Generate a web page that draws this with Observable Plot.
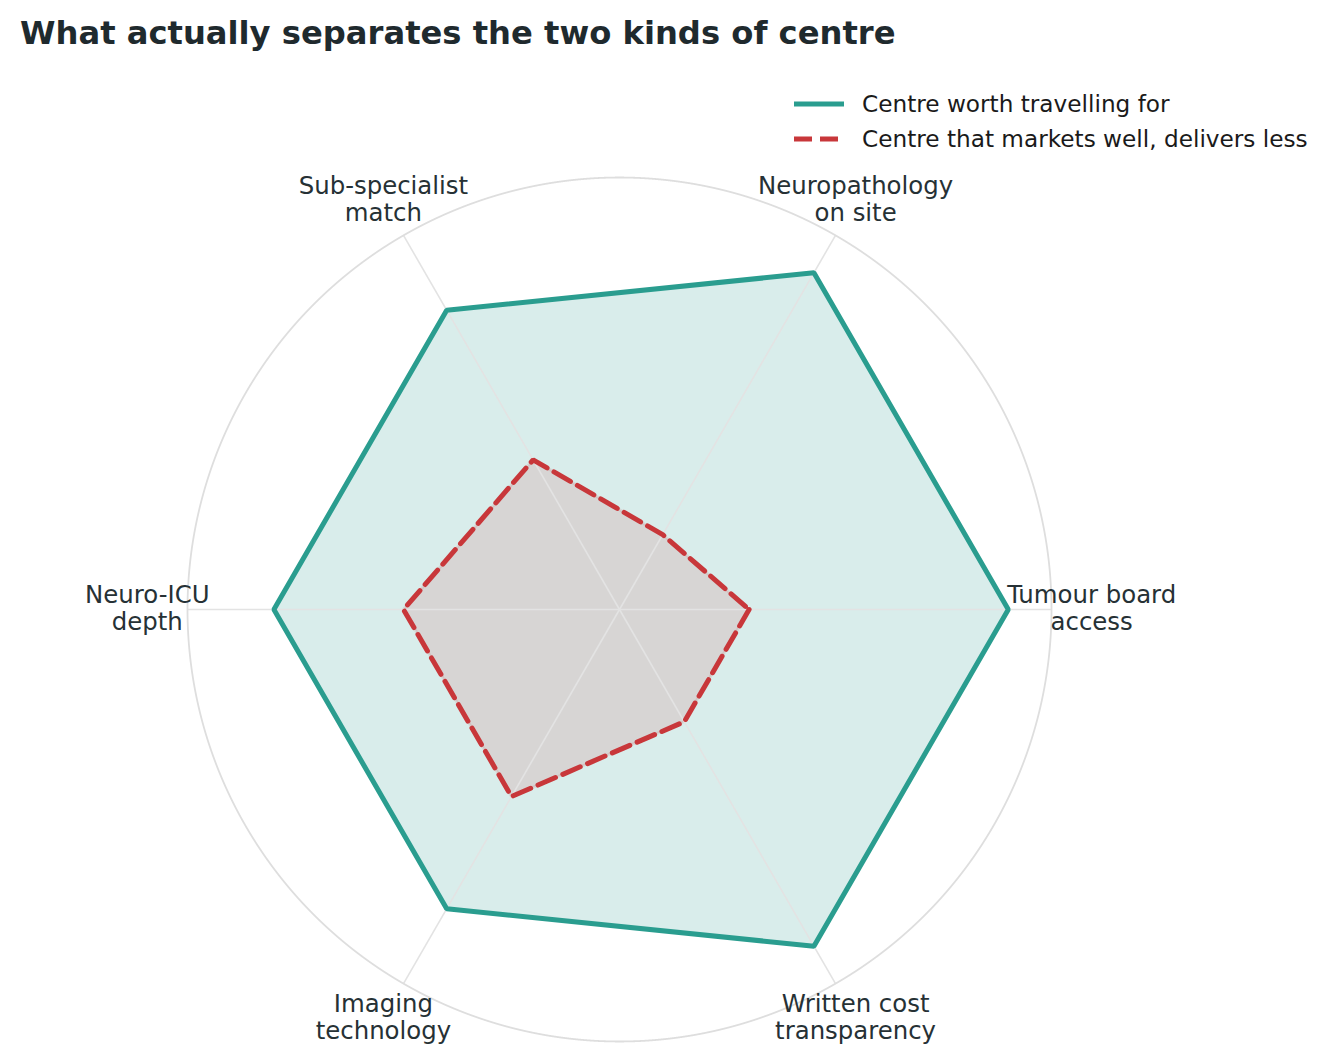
<!DOCTYPE html>
<html>
<head>
<meta charset="utf-8">
<script src="https://cdn.jsdelivr.net/npm/d3@7"></script>
<script src="https://cdn.jsdelivr.net/npm/@observablehq/plot@0.6"></script>
<style>
  html, body { margin: 0; padding: 0; background: #fff; }
  body { width: 1337px; height: 1064px; position: relative; overflow: hidden; font-family: "DejaVu Sans", sans-serif; }
  #title { position: absolute; left: 20px; top: 14px; font-size: 32.2px; font-weight: bold; color: #1f2a2e; white-space: nowrap; }
  #legend { position: absolute; left: 793px; top: 86px; font-size: 23.2px; color: #1a1a1a; }
  #legend .row { display: flex; align-items: center; height: 35px; }
  #legend svg { margin-right: 17px; }
  #chart { position: absolute; left: 0; top: 60px; }
</style>
</head>
<body>
<div id="title">What actually separates the two kinds of centre</div>
<div id="chart"></div>
<div id="legend"></div>
<script>
// ---- data ----
const axes = ["Tumour board\naccess", "Neuropathology\non site", "Sub-specialist\nmatch", "Neuro-ICU\ndepth", "Imaging\ntechnology", "Written cost\ntransparency"];
const worthScores = [9, 9, 8, 8, 8, 9];
const marketsScores = [3, 2, 4, 5, 5, 3];
const seriesNames = ["Centre worth travelling for", "Centre that markets well, delivers less"];
const maxScore = 10;

// ---- styling ----
const teal = "#2a9d8f";
const red = "#c8373a";
const deg = 0.2;               // degrees of arc per score unit (small so edges are straight)
const labelRadius = 10.93;     // label position in score units

const lon = i => 90 + i * 360 / axes.length;
const lat = v => 90 - v * deg;

function polygon(values) {
  const ring = values.map((v, i) => [lon(i), lat(v)]);
  ring.push(ring[0]);
  let g = {type: "Polygon", coordinates: [ring]};
  if (d3.geoArea(g) > 2 * Math.PI) g = {type: "Polygon", coordinates: [ring.slice().reverse()]};
  return g;
}

const spokes = axes.map((a, i) => ({lon: lon(i)}));
const labels = axes.map((a, i) => ({label: a, lon: lon(i), lat: lat(labelRadius)}));
const worthPoly = polygon(worthScores);
const marketsPoly = polygon(marketsScores);

const W = 1337, H = 1004;
const cx = 619, cy = 549, R = 432;

const chart = Plot.plot({
  width: W,
  height: H,
  marginLeft: cx - R,
  marginRight: W - (cx + R),
  marginTop: cy - R,
  marginBottom: H - (cy + R),
  projection: {
    type: "azimuthal-equidistant",
    rotate: [0, -90],
    clip: false,
    domain: d3.geoCircle().center([0, 90]).radius(maxScore * deg).precision(0.02)()
  },
  style: {fontFamily: "DejaVu Sans, sans-serif"},
  marks: [
    Plot.geo([worthPoly], {fill: teal, fillOpacity: 0.18, stroke: "none"}),
    Plot.geo([marketsPoly], {fill: red, fillOpacity: 0.13, stroke: red, strokeOpacity: 0.12, strokeWidth: 3}),
    Plot.link(spokes, {x1: d => d.lon, y1: 90, x2: d => d.lon, y2: lat(maxScore), stroke: "#e3e3e3", strokeWidth: 1.6}),
    Plot.geo([maxScore], {geometry: r => d3.geoCircle().center([0, 90]).radius(r * deg).precision(0.02)(), fill: "none", stroke: "#dedede", strokeWidth: 1.8}),
    Plot.geo([worthPoly], {fill: "none", stroke: teal, strokeWidth: 5, strokeLinejoin: "miter"}),
    Plot.geo([marketsPoly], {fill: "none", stroke: red, strokeWidth: 5, strokeDasharray: "19,8", strokeLinejoin: "miter"}),
    Plot.text(labels, {x: "lon", y: "lat", text: "label", fontSize: 24.4, fill: "#263135", lineHeight: 1.11, textAnchor: "middle", lineAnchor: "middle", dy: -2})
  ]
});
document.getElementById("chart").appendChild(chart);

// ---- legend ----
const legend = document.getElementById("legend");
const legendStyles = [{stroke: teal, dash: null}, {stroke: red, dash: "18,8"}];
seriesNames.forEach((name, i) => {
  const row = document.createElement("div");
  row.className = "row";
  const s = legendStyles[i];
  row.innerHTML = `<svg width="52" height="10"><line x1="1" y1="5" x2="51" y2="5" stroke="${s.stroke}" stroke-width="5" ${s.dash ? `stroke-dasharray="${s.dash}"` : ""}/></svg><span>${name}</span>`;
  legend.appendChild(row);
});
</script>
</body>
</html>
